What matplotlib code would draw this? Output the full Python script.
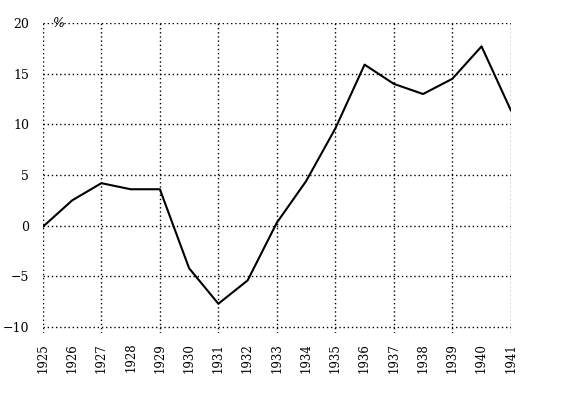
import numpy as np
import matplotlib.pyplot as plt

years = list(range(1925, 1942))
values = [-0.1, 2.5, 4.2, 3.6, 3.6, -4.2, -7.7, -5.4, 0.3, 4.4, 9.6, 15.9, 14.0, 13.0, 14.5, 17.7, 11.4]
yticks = [-10, -5, 0, 5, 10, 15, 20]

plt.rcParams['font.family'] = ['DejaVu Serif']

fig = plt.figure(figsize=(5.72, 3.98), dpi=100)
ax = fig.add_axes([0.075, 0.163, 0.818, 0.779])

# dotted grid: every second year, every 5 %
for x in years[::2]:
    ax.axvline(x, color='black', linestyle=(0, (1, 2)), linewidth=1.0, zorder=1)
for y in yticks:
    ax.axhline(y, color='black', linestyle=(0, (1, 2)), linewidth=1.0, zorder=1)

ax.plot(years, values, '-', color='black', linewidth=1.5, zorder=3)

ax.set_xlim(1925, 1941)
ax.set_ylim(-10.6, 20)
ax.set_xticks(years)
ax.set_xticklabels([str(y) for y in years], rotation=90, fontsize=8.5)
ax.set_yticks(yticks)
ax.set_yticklabels(['\u221210', '\u22125', '0', '5', '10', '15', '20'], fontsize=9)
ax.tick_params(axis='x', length=0, pad=7)
ax.tick_params(axis='y', length=0, pad=10)
for s in ax.spines.values():
    s.set_visible(False)

ax.text(1925.3, 20, '%', fontsize=9, style='italic', ha='left', va='center')

fig.savefig('out.png', dpi=100)
